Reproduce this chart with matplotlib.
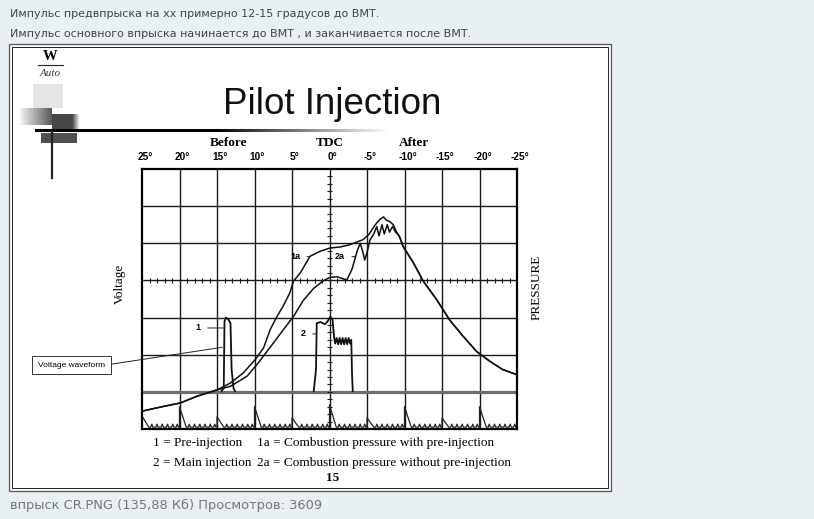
import numpy as np
import matplotlib.pyplot as plt
from matplotlib.patches import Rectangle

W, H = 814, 519

post_lines = ["Импульс предвпрыска на хх примерно 12-15 градусов до ВМТ.",
              "Импульс основного впрыска начинается до ВМТ , и заканчивается после ВМТ."]
caption = "впрыск CR.PNG (135,88 Кб) Просмотров: 3609"
title = "Pilot Injection"
legend_rows = [("1 = Pre-injection", "1a = Combustion pressure with pre-injection"),
               ("2 = Main injection", "2a = Combustion pressure without pre-injection")]
page_no = "15"

deg_ticks = [25, 20, 15, 10, 5, 0, -5, -10, -15, -20, -25]
deg_labels = ["25°", "20°", "15°", "10°", "5°", "0°", "-5°", "-10°", "-15°", "-20°", "-25°"]

# pressure curves, x in crank degrees, y in grid divisions
start_deg = [25.0, 22.1, 19.9, 17.7, 14.9]
start_p = [0.48, 0.61, 0.70, 0.88, 1.06]

p1a_deg = [13.2, 11.5, 9.9, 8.8, 7.9, 7.0, 6.2, 5.3, 4.8, 3.9, 2.6, 1.3, 0.0,
           -1.4, -2.7, -4.5, -5.3, -5.8, -6.3, -6.7, -7.2, -7.6, -8.0, -8.5, -8.9, -9.4, -9.8]
p1a_p = [1.24, 1.51, 1.87, 2.18, 2.68, 3.03, 3.30, 3.66, 3.98, 4.20, 4.65, 4.78, 4.87,
         4.90, 4.96, 5.10, 5.25, 5.41, 5.55, 5.64, 5.71, 5.62, 5.59, 5.50, 5.32, 5.15, 4.92]

p2a_deg = [13.2, 11.0, 9.5, 7.8, 6.2, 4.8, 3.5, 2.1, 0.9, 0.0, -1.0, -2.3, -3.0, -3.7,
           -4.1, -4.4, -4.7, -5.0, -5.4, -5.9, -6.3, -6.6, -7.0, -7.3, -7.7, -8.0, -8.4,
           -8.8, -9.3, -9.8]
p2a_p = [1.15, 1.42, 1.78, 2.23, 2.66, 3.03, 3.46, 3.79, 3.98, 4.08, 4.10, 4.01, 4.30, 4.80,
         5.00, 4.80, 4.55, 4.75, 5.09, 5.25, 5.45, 5.20, 5.50, 5.25, 5.50, 5.30, 5.45,
         5.30, 5.20, 4.92]

tail_deg = [-11.2, -12.5, -14.3, -16.0, -17.8, -19.6, -21.4, -23.1, -25.0]
tail_p = [4.47, 3.98, 3.48, 2.94, 2.50, 2.09, 1.82, 1.60, 1.46]

# injector voltage pulses
pre_deg = [14.4, 14.1, 14.0, 13.8, 13.5, 13.2, 13.05, 12.8, 12.6]
pre_v = [1.02, 1.10, 2.90, 3.00, 2.95, 2.85, 1.60, 1.10, 1.02]

main_deg = [2.1, 1.8, 1.7, 1.2, 0.6, 0.25, -0.1, -0.4, -0.6, -0.75, -0.95, -1.15, -1.35,
            -1.55, -1.75, -1.95, -2.15, -2.35, -2.55, -2.75, -2.9, -3.0, -3.1]
main_v = [1.02, 1.60, 2.85, 2.88, 2.82, 2.90, 3.02, 2.95, 2.50, 2.30, 2.45, 2.28, 2.45,
          2.28, 2.45, 2.28, 2.45, 2.28, 2.45, 2.30, 2.40, 1.50, 1.02]

# crank-angle marker trace along the bottom
marker_base = 0.05
spike_h = [0.30, 0.55, 0.28, 0.55, 0.25, 0.60, 0.25, 0.55, 0.25, 0.55]
ripple_offsets = [1.3, 2.0, 2.7, 3.4, 4.1, 4.7]
ripple_h = 0.08

fig = plt.figure(figsize=(W / 100, H / 100), dpi=100)
fig.patch.set_facecolor('#e8f0f4')

bg = fig.add_axes([0, 0, 1, 1])
bg.set_xlim(0, W)
bg.set_ylim(H, 0)
bg.axis('off')

for i, line in enumerate(post_lines):
    bg.text(10, 14 + i * 20, line, fontsize=8.0, color='#444444', va='center', family='DejaVu Sans')
bg.text(10, 505, caption, fontsize=9.4, color='#777777', va='center', family='DejaVu Sans')

bg.add_patch(Rectangle((9, 44), 602, 447, facecolor='white', edgecolor='#555555', lw=0.9))
bg.add_patch(Rectangle((12, 47), 596, 441, facecolor='none', edgecolor='#222222', lw=0.7))

# logo
bg.text(50, 57, "W", fontsize=10.5, fontweight='bold', family='Liberation Serif', ha='center', va='center')
bg.plot([38, 63], [64.5, 64.5], color='#222222', lw=0.8)
bg.text(50, 73, "Auto", fontsize=8, style='italic', family='Liberation Serif', ha='center', va='center',
        color='#333333')
bg.add_patch(Rectangle((33, 84), 30, 24, facecolor='#e4e4e4', edgecolor='none'))
grad = np.linspace(0.95, 0.35, 40)[None, :]
bg.imshow(np.repeat(grad, 10, axis=0), cmap='gray', vmin=0, vmax=1, extent=(20, 52, 125, 108),
          aspect='auto', zorder=2)
dark = np.concatenate([np.full(30, 0.28), np.linspace(0.28, 1.0, 12)])[None, :]
bg.imshow(np.repeat(dark, 10, axis=0), cmap='gray', vmin=0, vmax=1, extent=(52, 80, 131, 114),
          aspect='auto', zorder=2)
bg.add_patch(Rectangle((41, 133), 36, 10, facecolor='#505050', edgecolor='none', zorder=2))
fade = np.concatenate([np.full(60, 0.0), np.linspace(0.0, 1.0, 60)])[None, :]
bg.imshow(np.repeat(fade, 3, axis=0), cmap='gray', vmin=0, vmax=1, extent=(35, 390, 132.5, 129.5),
          aspect='auto', zorder=3)
bg.plot([52, 52], [131, 178], color='#222222', lw=1.6, zorder=3)
bg.set_xlim(0, W)
bg.set_ylim(H, 0)

bg.text(332, 104, title, fontsize=26.5, family='Liberation Sans', ha='center', va='center', color='#111111')

# axis headers
x0_px, x1_px = 142, 517
for d, lab in zip(deg_ticks, deg_labels):
    px = x0_px + (25 - d) * (x1_px - x0_px) / 50 + 3
    bg.text(px, 157, lab, fontsize=7.3, fontweight='bold', family='Liberation Sans', ha='center', va='center')
for d, lab in [(13.5, "Before"), (0, "TDC"), (-11.3, "After")]:
    px = x0_px + (25 - d) * (x1_px - x0_px) / 50
    bg.text(px, 143, lab, fontsize=9.5, fontweight='bold', family='Liberation Serif', ha='center', va='center')

bg.text(120, 284, "Voltage", fontsize=9.5, family='Liberation Serif', rotation=90, ha='center', va='center')
bg.text(537, 287, "PRESSURE", fontsize=9.5, family='Liberation Serif', rotation=90, ha='center', va='center')

for i, (a, b) in enumerate(legend_rows):
    bg.text(153, 443 + i * 20, a, fontsize=9.5, family='Liberation Serif', va='center')
    bg.text(257, 443 + i * 20, b, fontsize=9.5, family='Liberation Serif', va='center')
bg.text(333, 478, page_no, fontsize=9.5, fontweight='bold', family='Liberation Serif', ha='center', va='center')

# oscilloscope grid
ax = fig.add_axes([142 / W, 1 - 429 / H, 375 / W, 260 / H])
ax.set_facecolor('none')
ax.set_xlim(25, -25)
ax.set_ylim(0, 7)
ax.set_xticks([])
ax.set_yticks([])
for s in ax.spines.values():
    s.set_linewidth(1.6)
for d in deg_ticks[1:-1]:
    ax.axvline(d, color='#1a1a1a', lw=1.0)
for k in range(1, 7):
    if k == 1:
        ax.axhline(k, color='#6e6e6e', lw=2.3)
    else:
        ax.axhline(k, color='#1a1a1a', lw=1.0)
ax.vlines(np.arange(24, -25, -1), 4 - 0.07, 4 + 0.07, color='#1a1a1a', lw=0.8)
ax.hlines(np.arange(0.2, 7, 0.2), 0.3, -0.3, color='#1a1a1a', lw=0.8)

# traces
ax.plot(start_deg + p1a_deg + tail_deg, start_p + p1a_p + tail_p, color='#111111', lw=1.1)
ax.plot(start_deg + p2a_deg + tail_deg, start_p + p2a_p + tail_p, color='#111111', lw=1.1)
ax.plot(pre_deg, pre_v, color='#111111', lw=1.3)
ax.plot(main_deg, main_v, color='#111111', lw=1.3)

bx, by = [], []
for d, h in zip(deg_ticks[:-1], spike_h):
    bx += [d, d, d - 0.9]
    by += [marker_base, marker_base + h, marker_base]
    for off in ripple_offsets:
        bx += [d - off + 0.15, d - off, d - off - 0.15]
        by += [marker_base, marker_base + ripple_h, marker_base]
bx.append(-25)
by.append(marker_base)
ax.plot(bx, by, color='#222222', lw=0.9)

lab_kw = dict(fontsize=6.5, fontweight='bold', family='Liberation Sans', ha='center', va='center',
              arrowprops=dict(arrowstyle='-', lw=0.7, color='#222222', shrinkA=3, shrinkB=0))
ax.annotate("1", xy=(14.15, 2.72), xytext=(17.5, 2.72), **lab_kw)
ax.annotate("2", xy=(1.75, 2.56), xytext=(3.5, 2.56), **lab_kw)
ax.annotate("1a", xy=(2.7, 4.64), xytext=(4.6, 4.64), **lab_kw)
ax.annotate("2a", xy=(-3.5, 4.64), xytext=(-1.4, 4.64), **lab_kw)

ax.annotate("Voltage waveform", xy=(14.3, 2.2), xytext=(34.4, 1.72), fontsize=6.0,
            family='Liberation Sans', ha='center', va='center', annotation_clip=False,
            bbox=dict(boxstyle='square,pad=0.7', facecolor='white', edgecolor='#333333', lw=0.7),
            arrowprops=dict(arrowstyle='-', lw=0.7, color='#222222', relpos=(1, 0.5), shrinkA=0, shrinkB=0))

fig.savefig('out.png', dpi=100, facecolor=fig.get_facecolor())
